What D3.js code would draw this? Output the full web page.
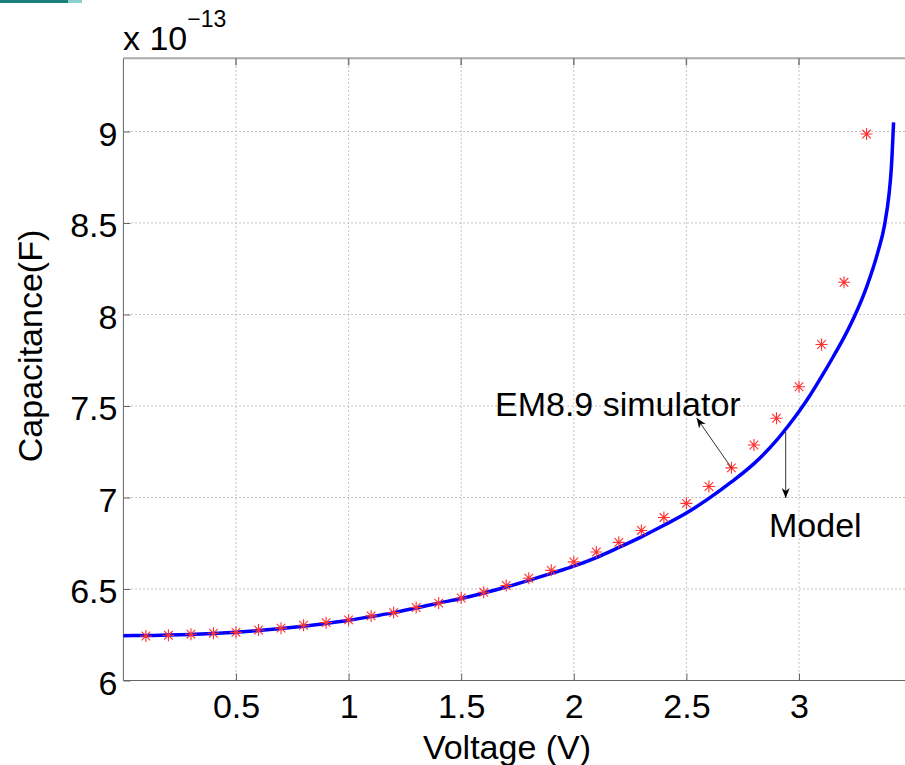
<!DOCTYPE html>
<html>
<head>
<meta charset="utf-8">
<script src="https://d3js.org/d3.v7.min.js"></script>
<style>
  body { margin: 0; background: #fff; }
  svg { display: block; font-family: "Liberation Sans", Arial, Helvetica, sans-serif; }
  .axis path, .axis line { stroke: #666; }
  .axis text { fill: #000; font-size: 34px; }
  .grid line { stroke: #b0b0b0; stroke-dasharray: 1.5,2.5; }
</style>
</head>
<body>
<svg id="chart" width="905" height="765"></svg>
<script>
// simulator points (EM8.9), capacitance in units of 1e-13 F
var simVoltage = [0.1,0.2,0.3,0.4,0.5,0.6,0.7,0.8,0.9,1.0,1.1,1.2,1.3,1.4,1.5,1.6,1.7,1.8,1.9,2.0,
                  2.1,2.2,2.3,2.4,2.5,2.6,2.7,2.8,2.9,3.0,3.1,3.2,3.3];
var simCap = [6.243,6.247,6.253,6.258,6.263,6.276,6.286,6.302,6.316,6.331,6.353,6.371,6.399,6.423,6.451,6.482,6.519,6.559,6.602,6.648,
              6.702,6.755,6.82,6.891,6.968,7.06,7.162,7.287,7.433,7.605,7.836,8.176,8.986];

// model curve
var modelVoltage = [0,0.1,0.2,0.3,0.4,0.5,0.6,0.7,0.8,0.9,1.0,1.1,1.2,1.3,1.4,1.5,1.6,1.7,1.8,1.9,2.0,
                    2.1,2.2,2.3,2.4,2.5,2.6,2.7,2.8,2.9,2.95,3.0,3.05,3.1,3.15,3.2,3.25,3.3,3.35,3.38,3.4,3.41,3.42];
var modelCap = [6.245,6.246,6.248,6.252,6.257,6.264,6.273,6.284,6.297,6.312,6.329,6.349,6.371,6.396,6.423,6.448,6.478,6.511,6.547,6.585,6.625,
                6.672,6.727,6.785,6.848,6.915,6.995,7.085,7.185,7.312,7.388,7.47,7.56,7.66,7.765,7.875,8.0,8.15,8.34,8.49,8.66,8.8,9.05];

var xTicks = [0.5,1,1.5,2,2.5,3];
var yTicks = [6,6.5,7,7.5,8,8.5,9];

var svg = d3.select("#chart");

var pLeft = 123.4, pRight = 911.6, pTop = 58.3, pBottom = 680.5;

var x = d3.scaleLinear().domain([0, 3.5]).range([pLeft, pRight]);
var y = d3.scaleLinear().domain([6, 9.4]).range([pBottom, pTop]);

// little teal strip at top-left corner
svg.append("rect").attr("x", 0).attr("y", 0).attr("width", 82).attr("height", 3).attr("fill", "#8ccfcf");
svg.append("rect").attr("x", 0).attr("y", 0).attr("width", 68).attr("height", 3).attr("fill", "#1a7f7a");

// grid
var grid = svg.append("g").attr("class", "grid");
grid.selectAll(".gx").data(xTicks).enter().append("line")
  .attr("x1", function(d){ return x(d); }).attr("x2", function(d){ return x(d); })
  .attr("y1", pTop).attr("y2", pBottom);
grid.selectAll(".gy").data(yTicks.slice(1)).enter().append("line")
  .attr("x1", pLeft).attr("x2", pRight)
  .attr("y1", function(d){ return y(d); }).attr("y2", function(d){ return y(d); });

// top border with inward ticks
svg.append("line").attr("x1", pLeft).attr("x2", pRight).attr("y1", pTop).attr("y2", pTop)
  .attr("stroke", "#aaa").attr("stroke-width", 2);
svg.selectAll(".tt").data(xTicks).enter().append("line")
  .attr("x1", function(d){ return x(d); }).attr("x2", function(d){ return x(d); })
  .attr("y1", pTop).attr("y2", pTop + 7).attr("stroke", "#777").attr("stroke-width", 1.5);

// axes
var xAxis = d3.axisBottom(x).tickValues(xTicks).tickSizeInner(-7).tickSizeOuter(0).tickPadding(13)
  .tickFormat(d3.format(""));
var gx = svg.append("g").attr("class", "axis").attr("transform", "translate(0," + pBottom + ")").call(xAxis);
gx.select(".domain").attr("d", "M" + pLeft + ",0H" + pRight);

var yAxis = d3.axisLeft(y).tickValues(yTicks).tickSizeInner(-7).tickSizeOuter(0).tickPadding(6)
  .tickFormat(d3.format(""));
var gy = svg.append("g").attr("class", "axis").attr("transform", "translate(" + pLeft + ",0)").call(yAxis);
gy.selectAll("text").attr("dy", "0.41em");
gy.select(".domain").attr("d", "M0," + pBottom + "V" + pTop);

// exponent label
var ex = svg.append("text").attr("x", 123).attr("y", 50).attr("font-size", 34);
ex.append("tspan").text("x 10");
ex.append("tspan").attr("font-size", 23).attr("dy", -23).text("\u221213");

// model line
var line = d3.line()
  .x(function(d){ return x(d[0]); })
  .y(function(d){ return y(d[1]); })
  .curve(d3.curveMonotoneX);
svg.append("path")
  .datum(d3.zip(modelVoltage, modelCap))
  .attr("d", line)
  .attr("fill", "none")
  .attr("stroke", "#0000ff")
  .attr("stroke-width", 3.5);

// simulator asterisks
var r = 6, rd = 4.3;
var star = "M" + (-r) + ",0H" + r + "M0," + (-r) + "V" + r +
           "M" + (-rd) + "," + (-rd) + "L" + rd + "," + rd +
           "M" + (-rd) + "," + rd + "L" + rd + "," + (-rd);
svg.selectAll(".sim").data(d3.zip(simVoltage, simCap)).enter().append("path")
  .attr("transform", function(d){ return "translate(" + x(d[0]) + "," + y(d[1]) + ")"; })
  .attr("d", star)
  .attr("stroke", "#ff3030")
  .attr("stroke-width", 1.1)
  .attr("fill", "none");

// annotations
var defs = svg.append("defs");
defs.append("marker").attr("id", "ah").attr("viewBox", "0 0 10 10")
  .attr("refX", 10).attr("refY", 5).attr("markerWidth", 10).attr("markerHeight", 10)
  .attr("markerUnits", "userSpaceOnUse").attr("orient", "auto")
  .append("path").attr("d", "M0,1L10,5L0,9L3,5Z").attr("fill", "#000");

svg.append("line")
  .attr("x1", x(2.7)).attr("y1", y(7.162))
  .attr("x2", 696.7).attr("y2", 418)
  .attr("stroke", "#333").attr("stroke-width", 1).attr("marker-end", "url(#ah)");
svg.append("text").attr("x", 495).attr("y", 416).attr("font-size", 34).text("EM8.9 simulator");

svg.append("line")
  .attr("x1", 785.7).attr("y1", 432)
  .attr("x2", 785.7).attr("y2", 498)
  .attr("stroke", "#333").attr("stroke-width", 1).attr("marker-end", "url(#ah)");
svg.append("text").attr("x", 769).attr("y", 537).attr("font-size", 34).text("Model");

// axis titles
svg.append("text").attr("x", 507).attr("y", 759).attr("text-anchor", "middle")
  .attr("font-size", 34).text("Voltage (V)");
svg.append("text").attr("transform", "translate(42,346) rotate(-90)").attr("text-anchor", "middle")
  .attr("font-size", 34).text("Capacitance(F)");
</script>
</body>
</html>
